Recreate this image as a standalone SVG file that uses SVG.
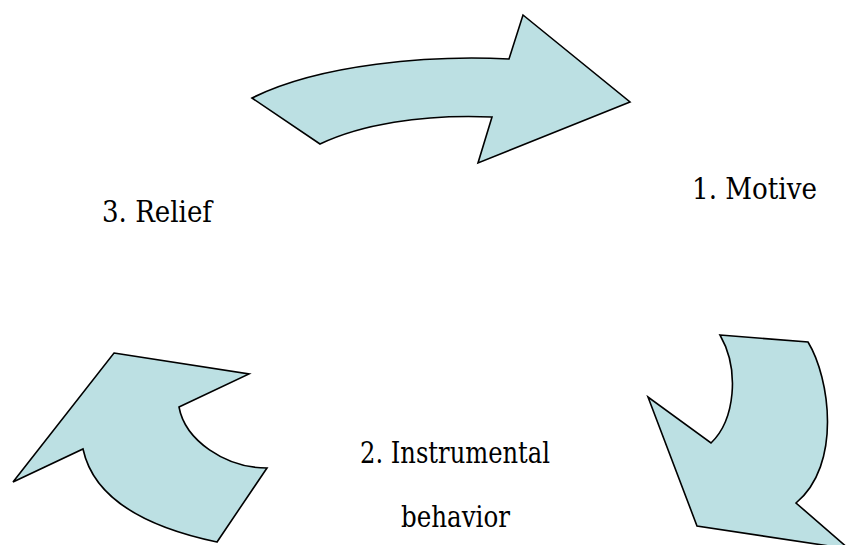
<svg xmlns="http://www.w3.org/2000/svg" width="846" height="545" viewBox="0 0 846 545">
<style>
.arrow{fill:#bce0e3;stroke:#000;stroke-width:1.6;stroke-linejoin:miter}
.lbl{font-family:"DejaVu Serif Condensed","DejaVu Serif",serif;font-size:29px;fill:#000}
</style>
<rect width="846" height="545" fill="#fff"/>
<g id="connectors">
<path id="arrow-top" class="arrow" d="M252,98 L320,144 C360,125 420,114 492,117 L478,163 L630,102 L523,15 L509,59 C430,55 320,64 252,98 Z"/>
<path id="arrow-right" class="arrow" d="M720,335 L808,342 C830,378 842,465 796,503 L849,549 L697,526 L648,397 L711,443 C735,420 740,370 720,335 Z"/>
<path id="arrow-left" class="arrow" d="M114,353 L249,374 L179,407 C185,440 225,468 267,468 L217,542 C160,530 95,505 83,449 L13,482 Z"/>
</g>
<g id="node-motive"><text class="lbl" x="692" y="199" textLength="125" lengthAdjust="spacingAndGlyphs">1. Motive</text></g>
<g id="node-behavior"><text class="lbl" x="360" y="463" textLength="190" lengthAdjust="spacingAndGlyphs">2. Instrumental</text><text class="lbl" x="401" y="527" textLength="109" lengthAdjust="spacingAndGlyphs">behavior</text></g>
<g id="node-relief"><text class="lbl" x="102" y="222" textLength="110" lengthAdjust="spacingAndGlyphs">3. Relief</text></g>
</svg>
